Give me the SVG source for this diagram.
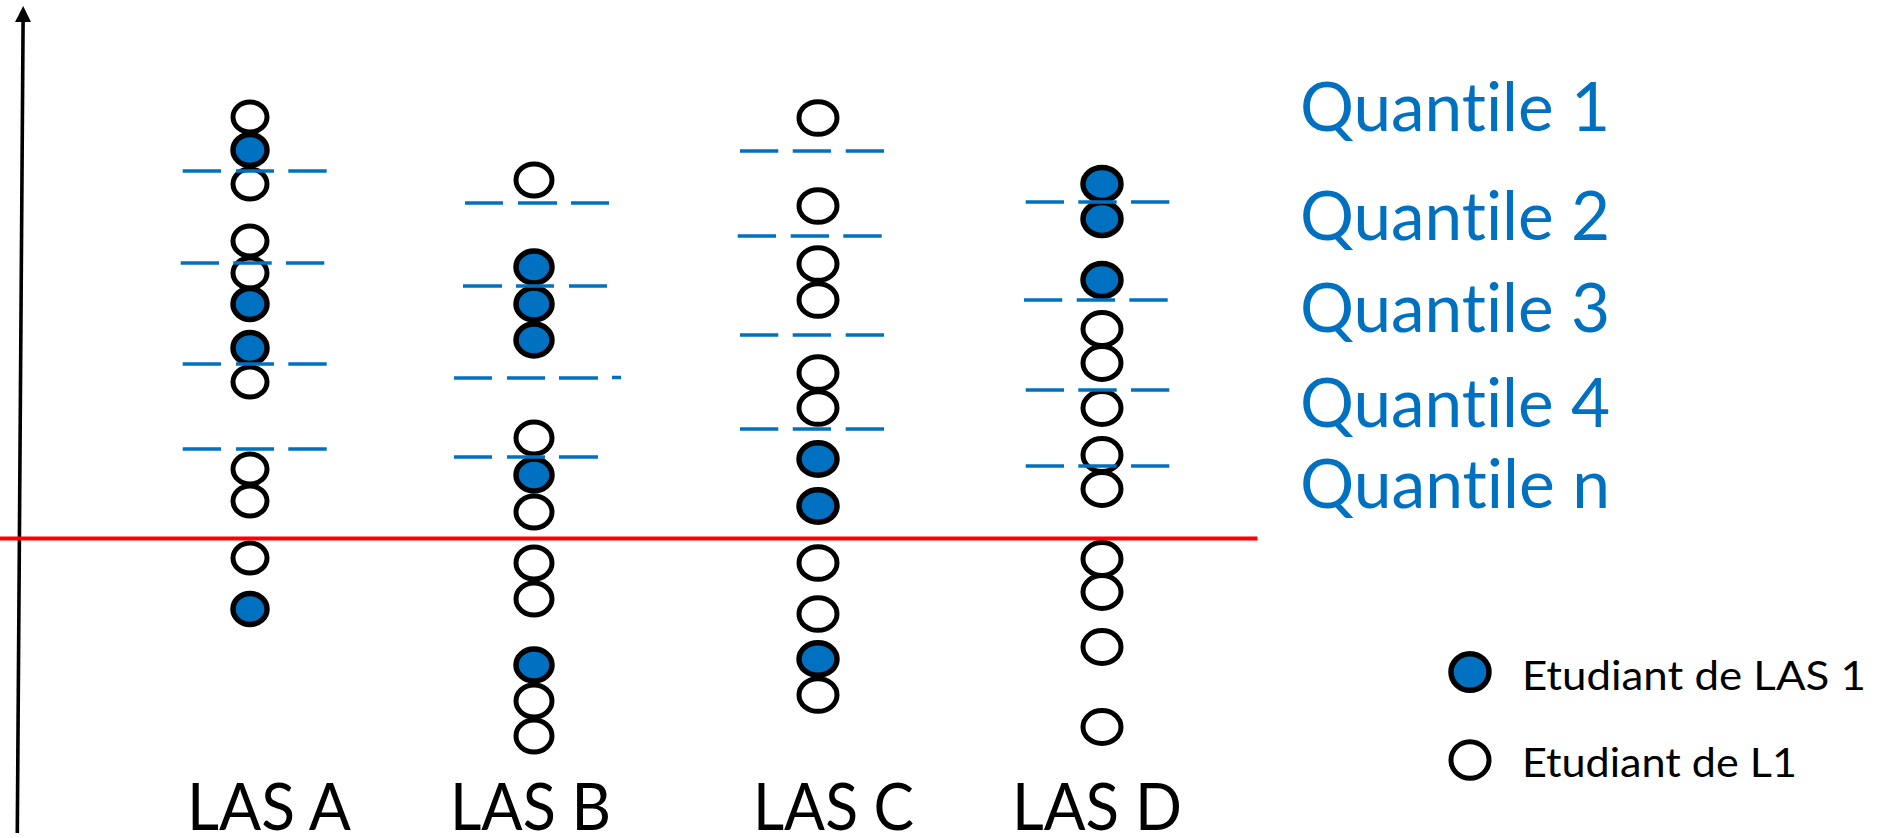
<svg xmlns="http://www.w3.org/2000/svg" width="1885" height="838" viewBox="0 0 1885 838">
<style>
.w{fill:#ffffff;stroke:#000000;stroke-width:5}
.b{fill:#0070C0;stroke:#000000;stroke-width:5.5}
.q{stroke:#0070C0;stroke-width:3.6;fill:none}
text{font-variant-ligatures:none;font-feature-settings:"liga" 0}
.ql{font-family:Lato,"Liberation Sans",sans-serif;font-size:67px;fill:#0070C0}
.lg{font-family:Lato,"Liberation Sans",sans-serif;font-size:40px;fill:#000000}
.lab{font-family:Lato,"Liberation Sans",sans-serif;font-size:66px;fill:#000000}
</style>
<defs>
<marker id="arr" markerWidth="16" markerHeight="16" refX="3" refY="8" orient="auto" markerUnits="userSpaceOnUse" viewBox="0 0 16 16">
<polygon points="0,0 16,8 0,16" fill="#000000"/>
</marker>
</defs>
<rect width="1885" height="838" fill="#ffffff"/>
<g id="axis">
<line x1="17.3" y1="833" x2="23.1" y2="19" stroke="#000000" stroke-width="3.6" marker-end="url(#arr)"/>
</g>
<g id="col-A">
<ellipse class="w" cx="250" cy="117" rx="17" ry="15"/>
<ellipse class="b" cx="250" cy="150" rx="17" ry="15.5"/>
<ellipse class="w" cx="250" cy="184" rx="17" ry="15"/>
<ellipse class="w" cx="250" cy="241" rx="17" ry="15"/>
<ellipse class="w" cx="250" cy="273" rx="17" ry="15"/>
<ellipse class="b" cx="250" cy="304" rx="17" ry="15.5"/>
<ellipse class="b" cx="250" cy="348" rx="17" ry="15.5"/>
<ellipse class="w" cx="250" cy="382" rx="17" ry="15"/>
<ellipse class="w" cx="250" cy="469" rx="17" ry="15"/>
<ellipse class="w" cx="250" cy="501" rx="17" ry="15"/>
<ellipse class="w" cx="250" cy="558" rx="17" ry="15"/>
<ellipse class="b" cx="250" cy="609" rx="17" ry="15.5"/>
</g>
<g id="col-B">
<ellipse class="w" cx="534" cy="180" rx="18" ry="16"/>
<ellipse class="b" cx="534" cy="267" rx="18" ry="16"/>
<ellipse class="b" cx="534" cy="304" rx="18" ry="16"/>
<ellipse class="b" cx="534" cy="340" rx="18" ry="16"/>
<ellipse class="w" cx="534" cy="438" rx="18" ry="16"/>
<ellipse class="b" cx="534" cy="475" rx="18" ry="16"/>
<ellipse class="w" cx="534" cy="512" rx="18" ry="16"/>
<ellipse class="w" cx="534" cy="563" rx="18" ry="16"/>
<ellipse class="w" cx="534" cy="599" rx="18" ry="16"/>
<ellipse class="b" cx="534" cy="665" rx="18" ry="16"/>
<ellipse class="w" cx="534" cy="701" rx="18" ry="16"/>
<ellipse class="w" cx="534" cy="736" rx="18" ry="16"/>
</g>
<g id="col-C">
<ellipse class="w" cx="818" cy="118" rx="19" ry="16.3"/>
<ellipse class="w" cx="818" cy="206" rx="19" ry="16.3"/>
<ellipse class="w" cx="818" cy="264" rx="19" ry="16.3"/>
<ellipse class="w" cx="818" cy="300" rx="19" ry="16.3"/>
<ellipse class="w" cx="818" cy="373" rx="19" ry="16.3"/>
<ellipse class="w" cx="818" cy="408" rx="19" ry="16.3"/>
<ellipse class="b" cx="818" cy="459" rx="19" ry="16.3"/>
<ellipse class="b" cx="818" cy="506" rx="19" ry="16.3"/>
<ellipse class="w" cx="818" cy="563" rx="19" ry="16.3"/>
<ellipse class="w" cx="818" cy="614" rx="19" ry="16.3"/>
<ellipse class="b" cx="818" cy="659" rx="19" ry="16.3"/>
<ellipse class="w" cx="818" cy="695" rx="19" ry="16.3"/>
</g>
<g id="col-D">
<ellipse class="b" cx="1102" cy="184" rx="19" ry="16.5"/>
<ellipse class="b" cx="1102" cy="219" rx="19" ry="16.5"/>
<ellipse class="b" cx="1102" cy="280" rx="19" ry="16.5"/>
<ellipse class="w" cx="1102" cy="329" rx="19" ry="16.5"/>
<ellipse class="w" cx="1102" cy="363" rx="19" ry="16.5"/>
<ellipse class="w" cx="1102" cy="408" rx="19" ry="16.5"/>
<ellipse class="w" cx="1102" cy="455" rx="19" ry="16.5"/>
<ellipse class="w" cx="1102" cy="489" rx="19" ry="16.5"/>
<ellipse class="w" cx="1102" cy="559" rx="19" ry="16.5"/>
<ellipse class="w" cx="1102" cy="592" rx="19" ry="16.5"/>
<ellipse class="w" cx="1102" cy="647" rx="19" ry="16.5"/>
<ellipse class="w" cx="1102" cy="727" rx="19" ry="16.5"/>
</g>
<g id="quantile-lines">
<path class="q" d="M182.7 171H221M236 171H274M288.3 171H326.7"/>
<path class="q" d="M180.7 263H219M233.3 263H271.7M286 263H324.3"/>
<path class="q" d="M182.7 364H221M236 364H274M288.3 364H326.7"/>
<path class="q" d="M182.7 449H221M236 449H274M288.3 449H326.7"/>
<path class="q" d="M465 203H503M518 203H557M571 203H609"/>
<path class="q" d="M463 286H502M516 286H554M569 286H607"/>
<path class="q" d="M454 378H492M507 378H545M559 378H598M612 377.5H621"/>
<path class="q" d="M454 457H492M507 457H545M559 457H598"/>
<path class="q" d="M740 151H778.3M792.7 151H831M845.7 151H884"/>
<path class="q" d="M737.7 236H776M790.7 236H829M843.3 236H881.7"/>
<path class="q" d="M740 335H778.3M792.7 335H831M845.7 335H884"/>
<path class="q" d="M740 429H778.3M792.7 429H831M845.7 429H884"/>
<path class="q" d="M1025.7 202H1064M1078.3 202H1116.7M1131 202H1169.3"/>
<path class="q" d="M1024 300H1062.3M1076.7 300H1115M1129.3 300H1167.7"/>
<path class="q" d="M1025.7 390H1064M1078.3 390H1116.7M1131 390H1169.3"/>
<path class="q" d="M1025.7 466H1064M1078.3 466H1116.7M1131 466H1169.3"/>
</g>
<g id="threshold">
<line x1="0" y1="538.6" x2="1257.5" y2="538.6" stroke="#FF0000" stroke-width="4"/>
</g>
<g id="quantile-labels">
<text class="ql" x="1300" y="131" textLength="310" lengthAdjust="spacingAndGlyphs">Quantile 1</text>
<text class="ql" x="1300" y="240" textLength="310" lengthAdjust="spacingAndGlyphs">Quantile 2</text>
<text class="ql" x="1300" y="332" textLength="310" lengthAdjust="spacingAndGlyphs">Quantile 3</text>
<text class="ql" x="1300" y="427" textLength="310" lengthAdjust="spacingAndGlyphs">Quantile 4</text>
<text class="ql" x="1300" y="508" textLength="310" lengthAdjust="spacingAndGlyphs">Quantile n</text>
</g>
<g id="column-labels">
<text class="lab" x="187" y="830" textLength="164" lengthAdjust="spacingAndGlyphs">LAS A</text>
<text class="lab" x="450" y="830" textLength="161" lengthAdjust="spacingAndGlyphs">LAS B</text>
<text class="lab" x="753" y="830" textLength="161" lengthAdjust="spacingAndGlyphs">LAS C</text>
<text class="lab" x="1012" y="830" textLength="170" lengthAdjust="spacingAndGlyphs">LAS D</text>
</g>
<g id="legend">
<g id="legend-las1">
<ellipse class="b" cx="1470" cy="672" rx="19" ry="18.3"/>
<text class="lg" x="1522" y="690" textLength="344" lengthAdjust="spacingAndGlyphs">Etudiant de LAS 1</text>
</g>
<g id="legend-l1">
<ellipse class="w" cx="1470" cy="760" rx="19" ry="18.3"/>
<text class="lg" x="1522" y="777" textLength="275" lengthAdjust="spacingAndGlyphs">Etudiant de L1</text>
</g>
</g>
</svg>
